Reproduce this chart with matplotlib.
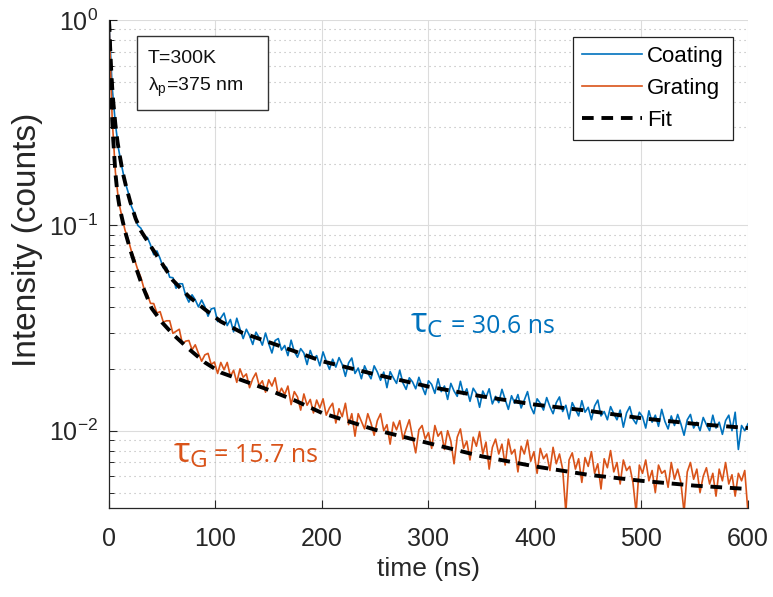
import matplotlib
matplotlib.use("Agg")
import matplotlib.pyplot as plt
from matplotlib.patches import Rectangle
import numpy as np

plt.rcParams['font.family'] = ['Liberation Sans', 'DejaVu Sans']

# Time channels of the measured traces (ns)
time_ns = np.arange(0, 601, 3)

# Measured decay, coating sample (normalised counts)
coating = [
    1.0, 0.470, 0.313, 0.235, 0.194, 0.163, 0.145, 0.124, 0.114, 0.100,
    0.0968, 0.0872, 0.0874, 0.0803, 0.0720, 0.0751, 0.0689, 0.0621, 0.0625, 0.0559,
    0.0556, 0.0494, 0.0520, 0.0519, 0.0456, 0.0423, 0.0459, 0.0434, 0.0401, 0.0433,
    0.0402, 0.0361, 0.0392, 0.0396, 0.0340, 0.0354, 0.0374, 0.0325, 0.0348, 0.0303,
    0.0353, 0.0313, 0.0281, 0.0312, 0.0290, 0.0263, 0.0302, 0.0284, 0.0261, 0.0299,
    0.0265, 0.0239, 0.0275, 0.0281, 0.0247, 0.0260, 0.0232, 0.0276, 0.0243, 0.0228,
    0.0251, 0.0239, 0.0210, 0.0246, 0.0223, 0.0232, 0.0207, 0.0242, 0.0218, 0.0199,
    0.0223, 0.0204, 0.0227, 0.0210, 0.0184, 0.0214, 0.0226, 0.0190, 0.0202, 0.0179,
    0.0207, 0.0191, 0.0179, 0.0207, 0.0193, 0.0176, 0.0193, 0.0162, 0.0194, 0.0181,
    0.0170, 0.0197, 0.0171, 0.0159, 0.0181, 0.0173, 0.0160, 0.0182, 0.0164, 0.0150,
    0.0175, 0.0168, 0.0152, 0.0179, 0.0155, 0.0165, 0.0142, 0.0170, 0.0156, 0.0147,
    0.0174, 0.0150, 0.0160, 0.0139, 0.0161, 0.0152, 0.0130, 0.0156, 0.0145, 0.0160,
    0.0135, 0.0147, 0.0137, 0.0159, 0.0142, 0.0127, 0.0148, 0.0136, 0.0150, 0.0129,
    0.0141, 0.0155, 0.0131, 0.0121, 0.0143, 0.0136, 0.0126, 0.0145, 0.0131, 0.0121,
    0.0137, 0.0146, 0.0124, 0.0133, 0.0114, 0.0137, 0.0127, 0.0118, 0.0140, 0.0123,
    0.0130, 0.0113, 0.0132, 0.0141, 0.0118, 0.0124, 0.0113, 0.0131, 0.0121, 0.0113,
    0.0126, 0.0104, 0.0122, 0.0131, 0.0114, 0.0108, 0.0123, 0.0117, 0.0103, 0.0125,
    0.0110, 0.0119, 0.0105, 0.0127, 0.0111, 0.0102, 0.0118, 0.0106, 0.0120, 0.0108,
    0.0095, 0.0113, 0.0120, 0.0103, 0.0110, 0.0100, 0.0116, 0.0107, 0.0100, 0.0119,
    0.0103, 0.0110, 0.0096, 0.0112, 0.0119, 0.0100, 0.0123, 0.0081, 0.0106, 0.0100,
    0.0108,
]

# Measured decay, grating sample
grating = [
    1.0, 0.330, 0.182, 0.131, 0.111, 0.095, 0.0855, 0.0750, 0.0681, 0.0608,
    0.0557, 0.0489, 0.0462, 0.0417, 0.0416, 0.0374, 0.0380, 0.0338, 0.0343, 0.0343,
    0.0298, 0.0305, 0.0312, 0.0264, 0.0273, 0.0275, 0.0248, 0.0262, 0.0238, 0.0218,
    0.0234, 0.0238, 0.0210, 0.0216, 0.0190, 0.0215, 0.0198, 0.0215, 0.0184, 0.0197,
    0.0172, 0.0200, 0.0182, 0.0189, 0.0162, 0.0179, 0.0191, 0.0166, 0.0175, 0.0154,
    0.0177, 0.0165, 0.0181, 0.0149, 0.0161, 0.0150, 0.0165, 0.0134, 0.0155, 0.0146,
    0.0126, 0.0151, 0.0133, 0.0142, 0.0122, 0.0141, 0.0129, 0.0143, 0.0119, 0.0129,
    0.0136, 0.0109, 0.0128, 0.0117, 0.0136, 0.0107, 0.0121, 0.0094, 0.0121, 0.0111,
    0.0102, 0.0121, 0.0109, 0.0095, 0.0112, 0.0121, 0.0100, 0.0107, 0.0086, 0.0110,
    0.0101, 0.0112, 0.0091, 0.0102, 0.0113, 0.0093, 0.0078, 0.0101, 0.0106, 0.0091,
    0.0098, 0.0082, 0.0106, 0.0094, 0.0099, 0.0081, 0.0100, 0.0089, 0.0069, 0.0093,
    0.0102, 0.0082, 0.0089, 0.0072, 0.0093, 0.0084, 0.0099, 0.0077, 0.0088, 0.0065,
    0.0083, 0.0091, 0.0077, 0.0086, 0.0068, 0.0091, 0.0077, 0.0081, 0.0063, 0.0084,
    0.0077, 0.0090, 0.0071, 0.0079, 0.0062, 0.0082, 0.0073, 0.0077, 0.0064, 0.0083,
    0.0069, 0.0077, 0.0065, 0.0040, 0.0072, 0.0078, 0.0065, 0.0073, 0.0056, 0.0074,
    0.0067, 0.0079, 0.0062, 0.0069, 0.0052, 0.0073, 0.0066, 0.0080, 0.0063, 0.0070,
    0.0055, 0.0072, 0.0064, 0.0067, 0.0056, 0.0040, 0.0068, 0.0062, 0.0072, 0.0057,
    0.0064, 0.0050, 0.0068, 0.0062, 0.0064, 0.0053, 0.0070, 0.0058, 0.0065, 0.0056,
    0.0040, 0.0063, 0.0070, 0.0058, 0.0065, 0.0050, 0.0060, 0.0066, 0.0055, 0.0062,
    0.0048, 0.0065, 0.0057, 0.0070, 0.0055, 0.0061, 0.0048, 0.0062, 0.0057, 0.0064,
    0.0040,
]

# Fitted curves
fit_t = [0, 1, 2, 3, 4, 6, 8, 10, 13, 16, 20, 25, 30, 40, 50, 60, 75, 90, 105, 125,
         150, 175, 200, 250, 300, 350, 400, 450, 500, 550, 600]
fit_coating = [1.0, 0.75, 0.58, 0.47, 0.40, 0.31, 0.255, 0.22, 0.18, 0.155, 0.13, 0.108,
               0.094, 0.078, 0.065, 0.054, 0.045, 0.039, 0.034, 0.030, 0.027, 0.0243,
               0.0218, 0.0188, 0.0164, 0.0147, 0.0134, 0.0125, 0.0115, 0.0108, 0.0103]
fit_grating = [1.0, 0.62, 0.43, 0.33, 0.26, 0.18, 0.142, 0.122, 0.104, 0.09, 0.076, 0.063,
               0.053, 0.0395, 0.0336, 0.0295, 0.025, 0.0215, 0.0192, 0.0176, 0.0158, 0.014,
               0.0122, 0.0101, 0.0087, 0.0075, 0.0067, 0.0061, 0.0057, 0.0054, 0.0052]

BLUE = '#0072BD'
ORANGE = '#D95319'
AXCOL = '#262626'
SANS = ['Liberation Sans', 'DejaVu Sans']
CAL = ['Open Sans', 'DejaVu Sans']

fig = plt.figure(figsize=(7.73, 5.97), dpi=100)
ax = fig.add_axes([0.141, 0.149, 0.8266, 0.8174])

ax.plot(time_ns, coating, color=BLUE, lw=1.2, label='Coating')
ax.plot(time_ns, grating, color=ORANGE, lw=1.2, label='Grating')
ax.plot(fit_t, fit_coating, color='black', lw=2.8, dashes=(3, 2), label='Fit')
ax.plot(fit_t, fit_grating, color='black', lw=2.8, dashes=(3, 2))

ax.set_yscale('log')
ax.set_xlim(0, 600)
ax.set_ylim(0.0042, 1)
ax.set_xticks([0, 100, 200, 300, 400, 500, 600])

ax.grid(which='major', color='#DCDCDC', lw=0.8, ls='-')
ax.yaxis.grid(which='minor', color='#B4B4B4', lw=0.8, ls=(0, (1, 3.5)))
ax.set_axisbelow(True)

for side in ['top', 'right']:
    ax.spines[side].set_visible(False)
for side in ['left', 'bottom']:
    ax.spines[side].set_color(AXCOL)
    ax.spines[side].set_linewidth(0.9)

ax.tick_params(which='major', direction='in', length=6, width=0.8, color=AXCOL,
               labelsize=18, labelcolor=AXCOL)
ax.tick_params(axis='x', which='major', pad=14)
ax.tick_params(axis='y', which='major', pad=8)
ax.tick_params(which='minor', direction='in', length=3.5, width=0.7, color=AXCOL)
ax.tick_params(axis='x', which='minor', bottom=False)

ax.set_xlabel('time (ns)', fontsize=19, color=AXCOL, labelpad=4)
ax.set_ylabel('Intensity (counts)', fontsize=24, color=AXCOL)
ax.yaxis.set_label_coords(-0.104, 0.55)

# Conditions box
ax.add_patch(Rectangle((0.0438, 0.8156), 0.205, 0.1516, transform=ax.transAxes,
                       fc='white', ec='#333333', lw=1.0, zorder=5))
ax.text(0.061, 0.921, 'T=300K', transform=ax.transAxes, fontsize=14,
        family=SANS, color='#111111', va='center', zorder=6)
ax.text(0.061, 0.862, r'$\mathregular{λ_p}$=375 nm', transform=ax.transAxes, fontsize=14,
        family=SANS, color='#111111', va='center', zorder=6)

# Lifetimes
ax.text(282.5, 0.030, r'$\mathregular{τ_C}$', color=BLUE, fontsize=25,
        family=CAL, va='baseline')
ax.text(419, 0.030, '= 30.6 ns', color=BLUE, fontsize=18,
        family=CAL, va='baseline', ha='right')
ax.text(60, 0.0070, r'$\mathregular{τ_G}$', color=ORANGE, fontsize=25,
        family=CAL, va='baseline')
ax.text(196, 0.0070, '= 15.7 ns', color=ORANGE, fontsize=18,
        family=CAL, va='baseline', ha='right')

leg = ax.legend(loc='upper right', bbox_to_anchor=(0.9765, 0.965), fancybox=False,
                framealpha=1, edgecolor='#222222', handlelength=2.7,
                prop={'family': SANS, 'size': 16},
                borderpad=0.4, labelspacing=0.5, handletextpad=0.25, borderaxespad=0)
leg.get_frame().set_linewidth(0.9)

fig.savefig('out.png', dpi=100)
